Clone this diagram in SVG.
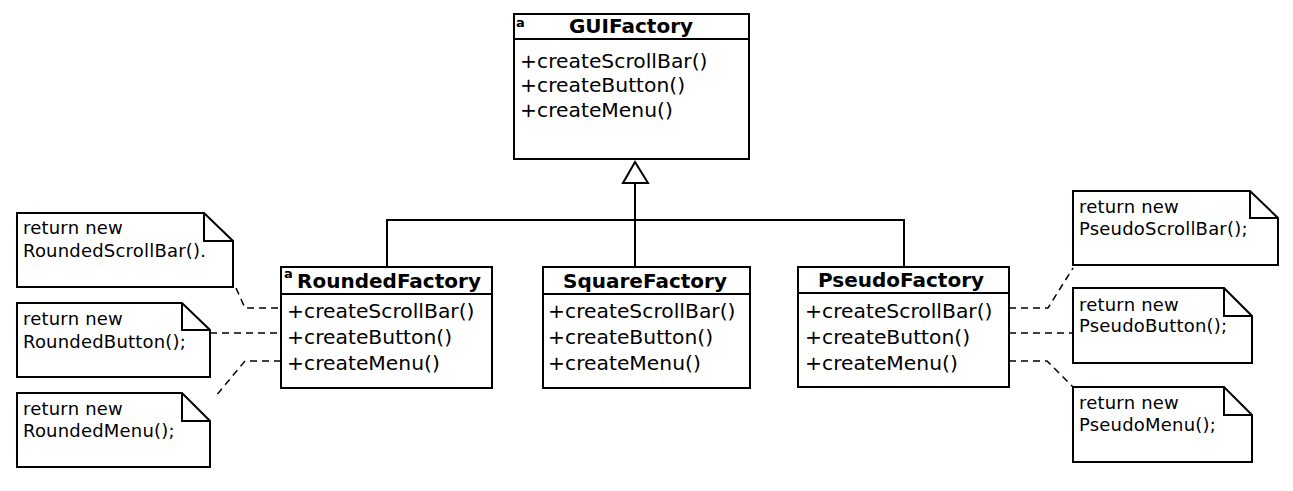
<svg xmlns="http://www.w3.org/2000/svg" width="1293" height="491" viewBox="0 0 1293 491">
<style>
.box{fill:#fff;stroke:#000;stroke-width:2}
.ln{fill:none;stroke:#000;stroke-width:2}
.title{font-family:"DejaVu Sans",sans-serif;font-size:20px;font-weight:bold;text-anchor:middle}
.m{font-family:"DejaVu Sans",sans-serif;font-size:20.3px}
.n{font-family:"DejaVu Sans",sans-serif;font-size:18px;letter-spacing:0.2px}
.a{font-family:"DejaVu Sans",sans-serif;font-size:13px;font-weight:bold}
.dash{fill:none;stroke:#000;stroke-width:1.5;stroke-dasharray:7,5}
</style>
<rect width="1293" height="491" fill="#fff"/>
<g id="connectors">
<path class="ln" d="M635,183V267M387,267V220H904V267"/>
<polygon points="635,162 623,183 648,183" fill="#fff" stroke="#000" stroke-width="2"/>
<path class="dash" d="M236,288L245,308H281"/>
<path class="dash" d="M210,333H281"/>
<path class="dash" d="M281,361H245L215,397"/>
<path class="dash" d="M1009,308H1048L1073,268"/>
<path class="dash" d="M1009,333H1073"/>
<path class="dash" d="M1009,361H1047L1073,387"/>
</g>
<g id="GUIFactory">
<rect class="box" x="514" y="14" width="235" height="145"/>
<line class="ln" x1="514" y1="39" x2="749" y2="39"/>
<text class="a" x="516" y="27">a</text>
<text class="title" x="631" y="33">GUIFactory</text>
<text class="m" x="520" y="68">+createScrollBar()</text>
<text class="m" x="520" y="92">+createButton()</text>
<text class="m" x="520" y="117">+createMenu()</text>
</g>
<g id="RoundedFactory">
<rect class="box" x="281" y="267" width="211" height="121"/>
<line class="ln" x1="281" y1="294" x2="492" y2="294"/>
<text class="a" x="284" y="278">a</text>
<text class="title" x="389" y="288">RoundedFactory</text>
<text class="m" x="287" y="318">+createScrollBar()</text>
<text class="m" x="287" y="344">+createButton()</text>
<text class="m" x="287" y="370">+createMenu()</text>
</g>
<g id="SquareFactory">
<rect class="box" x="543" y="267" width="207" height="121"/>
<line class="ln" x1="543" y1="294" x2="750" y2="294"/>
<text class="title" x="645" y="288">SquareFactory</text>
<text class="m" x="548" y="318">+createScrollBar()</text>
<text class="m" x="548" y="344">+createButton()</text>
<text class="m" x="548" y="370">+createMenu()</text>
</g>
<g id="PseudoFactory">
<rect class="box" x="798" y="267" width="211" height="120"/>
<line class="ln" x1="798" y1="293" x2="1009" y2="293"/>
<text class="title" x="901" y="287">PseudoFactory</text>
<text class="m" x="805" y="318">+createScrollBar()</text>
<text class="m" x="805" y="344">+createButton()</text>
<text class="m" x="805" y="370">+createMenu()</text>
</g>
<g id="noteRoundedScrollBar">
<path class="box" d="M17,213H204L233,241V287H17Z"/>
<path class="ln" d="M204,213V241H233"/>
<text class="n" x="23" y="234">return new</text>
<text class="n" x="23" y="257">RoundedScrollBar().</text>
</g>
<g id="noteRoundedButton">
<path class="box" d="M17,303H182L210,330V377H17Z"/>
<path class="ln" d="M182,303V330H210"/>
<text class="n" x="23" y="325">return new</text>
<text class="n" x="23" y="348">RoundedButton();</text>
</g>
<g id="noteRoundedMenu">
<path class="box" d="M17,393H182L210,421V467H17Z"/>
<path class="ln" d="M182,393V421H210"/>
<text class="n" x="23" y="415">return new</text>
<text class="n" x="23" y="437">RoundedMenu();</text>
</g>
<g id="notePseudoScrollBar">
<path class="box" d="M1073,191H1250L1278,218V265H1073Z"/>
<path class="ln" d="M1250,191V218H1278"/>
<text class="n" x="1079" y="213">return new</text>
<text class="n" x="1079" y="235">PseudoScrollBar();</text>
</g>
<g id="notePseudoButton">
<path class="box" d="M1073,288H1224L1252,316V363H1073Z"/>
<path class="ln" d="M1224,288V316H1252"/>
<text class="n" x="1079" y="311">return new</text>
<text class="n" x="1079" y="332">PseudoButton();</text>
</g>
<g id="notePseudoMenu">
<path class="box" d="M1073,387H1224L1252,415V462H1073Z"/>
<path class="ln" d="M1224,387V415H1252"/>
<text class="n" x="1079" y="409">return new</text>
<text class="n" x="1079" y="431">PseudoMenu();</text>
</g>
</svg>
